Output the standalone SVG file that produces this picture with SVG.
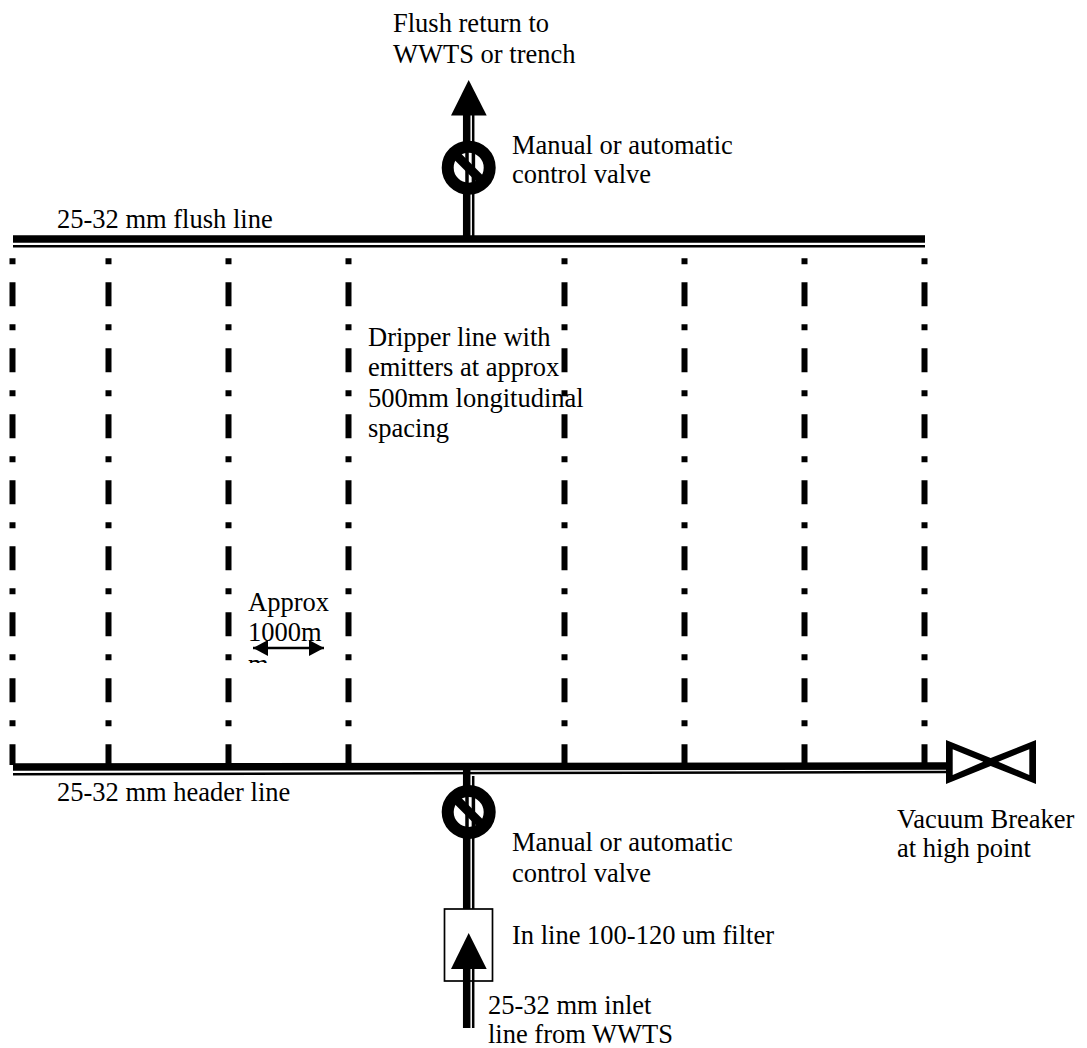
<svg xmlns="http://www.w3.org/2000/svg" width="1087" height="1048" viewBox="0 0 1087 1048">
<style>
text{font-family:"Liberation Serif","Times New Roman",serif;font-size:26.5px;fill:#000}
.thick{stroke:#000;stroke-width:7.5;fill:none}
.thin{stroke:#000;stroke-width:2.5;fill:none}
.drip{stroke:#000;stroke-width:6;fill:none;stroke-dasharray:6 18 24 18;stroke-dashoffset:0}
.valve circle{fill:#fff;stroke:#000;stroke-width:12}
.valve line.d{stroke:#000;stroke-width:9}
.valve path{stroke:#000;fill:none;stroke-width:3.5}
</style>
<defs>
<clipPath id="clipm"><rect x="240" y="560" width="100" height="103"/></clipPath>
<marker id="ah" markerUnits="userSpaceOnUse" markerWidth="16" markerHeight="16" refX="15" refY="8" orient="auto-start-reverse"><path d="M0 0L15 8L0 16Z"/></marker>
</defs>
<rect width="1087" height="1048" fill="#fff"/>
<g id="connectors">
<g id="drippers">
<path class="drip" d="M12.5 258.3V765"/>
<path class="drip" d="M108.5 258.3V765"/>
<path class="drip" d="M228.5 258.3V765"/>
<path class="drip" d="M348.5 258.3V765"/>
<path class="drip" d="M564.5 258.3V765"/>
<path class="drip" d="M684.5 258.3V765"/>
<path class="drip" d="M804.5 258.3V765"/>
<path class="drip" d="M924.5 258.3V765"/>
</g>
<g id="flush-line"><path class="thick" d="M13 239H925"/><path class="thin" d="M13 246.3H925"/></g>
<g id="header-line"><path class="thick" d="M13 767L947 766"/><path class="thin" d="M13 774.3L947 772"/></g>
<g id="flush-riser"><path class="thick" d="M466.7 115V236"/><path class="thin" d="M473.2 115V236"/></g>
<g id="inlet"><path class="thick" d="M466.7 770V1028"/><path class="thin" d="M473.2 776V1028"/></g>
<path id="spacing-arrow" d="M253 648H324" stroke="#000" stroke-width="2.5" marker-start="url(#ah)" marker-end="url(#ah)"/>
</g>
<g id="flush-arrow"><path d="M468.7 80L486.7 115.6H451Z"/></g>
<g id="flush-valve" class="valve">
<circle cx="468.7" cy="167.7" r="21"/>
<path d="M467 150V185M473.4 150V185"/>
<line class="d" x1="454" y1="153" x2="484" y2="183"/>
</g>
<g id="header-valve" class="valve">
<circle cx="468.7" cy="812" r="21"/>
<path d="M467 794V830M473.4 794V830"/>
<line class="d" x1="454" y1="797" x2="484" y2="827"/>
</g>
<g id="filter">
<rect x="444.5" y="909" width="48" height="72" fill="#fff" stroke="#000" stroke-width="1.7"/>
<path d="M468.7 933L486.7 969H451Z"/>
<path class="thick" d="M466.7 969V981"/><path class="thin" d="M473.2 969V981"/>
</g>
<g id="vacuum-breaker"><path fill-rule="evenodd" d="M946 740L990.7 758L1036 740V784L990.7 766L946 784ZM952.7 749.3V775L983.3 761.7ZM998.3 761.7L1029.3 775V749.3Z"/></g>
<g id="labels">
<text x="393" y="32">Flush return to</text>
<text x="393" y="63">WWTS or trench</text>
<text x="512" y="154">Manual or automatic</text>
<text x="512" y="183">control valve</text>
<text x="57" y="228">25-32 mm flush line</text>
<text x="368" y="346">Dripper line with</text>
<text x="368" y="376">emitters at approx</text>
<text x="368" y="407">500mm longitudinal</text>
<text x="368" y="437">spacing</text>
<g clip-path="url(#clipm)"><text x="248" y="611">Approx</text><text x="248" y="641">1000m</text><text x="248" y="673">m</text></g>
<text x="57" y="801">25-32 mm header line</text>
<text x="512" y="851">Manual or automatic</text>
<text x="512" y="882">control valve</text>
<text x="512" y="944">In line 100-120 um filter</text>
<text x="488" y="1014">25-32 mm inlet</text>
<text x="488" y="1043">line from WWTS</text>
<text x="897" y="828">Vacuum Breaker</text>
<text x="897" y="857">at high point</text>
</g>
</svg>
